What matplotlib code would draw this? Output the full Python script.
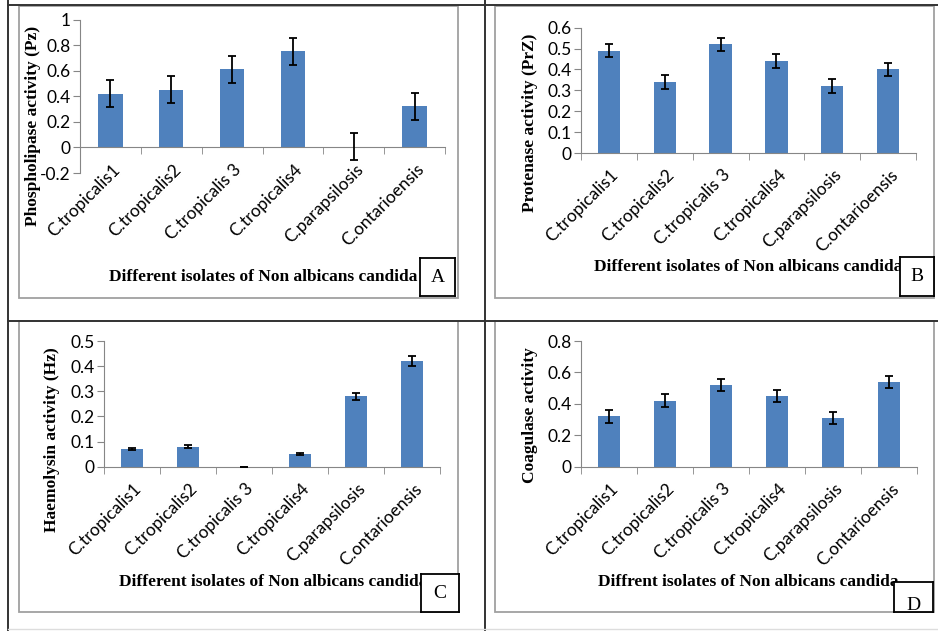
import matplotlib.pyplot as plt
from matplotlib.lines import Line2D
from matplotlib.patches import Rectangle
from matplotlib.ticker import FixedLocator
from matplotlib.transforms import ScaledTranslation

# categories shared by all four panels
isolates = ['C.tropicalis1', 'C.tropicalis2', 'C.tropicalis 3',
            'C.tropicalis4', 'C.parapsilosis', 'C.ontarioensis']

# A: phospholipase
phospho = [0.42, 0.45, 0.61, 0.75, 0.005, 0.32]
phospho_err = [0.105, 0.105, 0.105, 0.105, 0.105, 0.105]
# B: proteinase
protease = [0.49, 0.34, 0.52, 0.44, 0.32, 0.40]
protease_err = [0.032, 0.032, 0.032, 0.032, 0.032, 0.032]
# C: haemolysin
haemo = [0.07, 0.08, 0.0, 0.05, 0.28, 0.42]
haemo_err = [0.005, 0.005, 0.0, 0.003, 0.015, 0.021]
# D: coagulase
coag = [0.32, 0.42, 0.52, 0.45, 0.31, 0.54]
coag_err = [0.04, 0.04, 0.04, 0.04, 0.04, 0.04]

W, H = 938, 631
fig = plt.figure(figsize=(W / 100, H / 100), dpi=100)
fig.patch.set_facecolor('white')

BAR = '#4F81BD'
AXC = '#868686'
TICKFONT = 'Lato'
SERIF = 'Liberation Serif'


def fx(x):
    return x / W


def fy(y):
    return 1 - y / H


def px_rect(l, t, r, b):
    return [l / W, 1 - b / H, (r - l) / W, (b - t) / H]


def hline(y, x1, x2, color='#333333', lw=1.4):
    fig.add_artist(Line2D([fx(x1), fx(x2)], [fy(y), fy(y)], color=color, lw=lw,
                          transform=fig.transFigure))


def vline(x, y1, y2, color='#333333', lw=1.4):
    fig.add_artist(Line2D([fx(x), fx(x)], [fy(y1), fy(y2)], color=color, lw=lw,
                          transform=fig.transFigure))


def frame(l, t, r, b, color='#a0a0a0', lw=1.3):
    rect = Rectangle((fx(l), fy(b)), fx(r - l), (b - t) / H, transform=fig.transFigure,
                     facecolor='none', edgecolor=color, lw=lw, zorder=1)
    fig.add_artist(rect)


# table grid
hline(5, 8, 938)
hline(321, 8, 938)
vline(8, 0, 631)
vline(485, 0, 631)
hline(629, 8, 938, color='#dddddd', lw=1)

# chart frames
frame(19, 6, 458, 298)
frame(495, 6, 934, 298)
frame(19, 321, 458, 612)
frame(495, 321, 934, 612)

# nudge rotated category labels to the right, like the Excel original
label_shift = ScaledTranslation(0.07, 0, fig.dpi_scale_trans)


def panel(rect, vals, errs, ylim, yticks, ylabel, ylab_xy, xlabel, xlab_xy):
    ax = fig.add_axes(px_rect(*rect))
    # spine position first: moving it resets the tick labels
    for s in ['top', 'right']:
        ax.spines[s].set_visible(False)
    ax.spines['bottom'].set_position(('data', 0))
    ax.spines['left'].set_color(AXC)
    ax.spines['bottom'].set_color(AXC)
    x = list(range(len(isolates)))
    ax.bar(x, vals, width=0.4, color=BAR, zorder=2)
    ax.errorbar(x, vals, yerr=errs, fmt='none', ecolor='black', elinewidth=1.3,
                capsize=3, capthick=1.3, zorder=3)
    ax.set_xlim(-0.5, 5.5)
    ax.set_ylim(*ylim)
    ax.set_yticks(yticks)
    ax.set_yticklabels([('%g' % t) for t in yticks], fontsize=12.5, family=TICKFONT)
    ax.set_xticks(x)
    ax.set_xticklabels(isolates, rotation=45, ha='right', va='center',
                       rotation_mode='anchor', fontsize=12.5, family=TICKFONT)
    ax.xaxis.set_minor_locator(FixedLocator([i - 0.5 for i in range(len(isolates) + 1)]))
    ax.tick_params(axis='x', which='major', length=0, pad=14)
    ax.tick_params(axis='x', which='minor', length=5, color=AXC, direction='out')
    ax.tick_params(axis='y', length=5, color=AXC, direction='out', pad=2)
    for lab in ax.get_xticklabels():
        lab.set_transform(lab.get_transform() + label_shift)
    ax.patch.set_alpha(0)
    fig.text(fx(ylab_xy[0]), fy(ylab_xy[1]), ylabel, rotation=90, ha='center',
             va='center', fontsize=12.5, fontweight='bold', family=SERIF)
    fig.text(fx(xlab_xy[0]), fy(xlab_xy[1]), xlabel, ha='left', va='center',
             fontsize=12.5, fontweight='bold', family=SERIF)
    return ax


panel((80, 19.5, 445, 173), phospho, phospho_err, (-0.2, 1.0),
      [-0.2, 0, 0.2, 0.4, 0.6, 0.8, 1.0], 'Phospholipase activity (Pz)', (33, 126),
      'Different isolates of Non albicans candida', (109, 277))
panel((581, 27.7, 916, 153), protease, protease_err, (0, 0.6),
      [0, 0.1, 0.2, 0.3, 0.4, 0.5, 0.6], 'Protenase activity (PrZ)', (530, 123),
      'Different isolates of Non albicans candida', (594, 267))
panel((104, 341, 440, 466.7), haemo, haemo_err, (0, 0.5),
      [0, 0.1, 0.2, 0.3, 0.4, 0.5], 'Haemolysin activity (Hz)', (52, 440),
      'Different isolates of Non albicans candida', (119, 582))
panel((581, 341, 917, 466.7), coag, coag_err, (0, 0.8),
      [0, 0.2, 0.4, 0.6, 0.8], 'Coagulase activity', (530, 415),
      'Diffrent isolates of Non albicans candida', (598, 582))

# panel letter boxes (small axes so the letter is clipped to the box)
boxes = [('A', (420, 258, 455, 296), 0.5), ('B', (900, 257, 934, 296), 0.5),
         ('C', (421, 574, 459, 612), 0.5), ('D', (894, 582, 933, 612), 0.2)]
for letter, (l, t, r, b), ty in boxes:
    bx = fig.add_axes(px_rect(l, t, r, b), zorder=5)
    bx.set_xticks([])
    bx.set_yticks([])
    bx.set_facecolor('white')
    for s in bx.spines.values():
        s.set_color('black')
        s.set_linewidth(1.3)
    bx.text(0.5, ty, letter, ha='center', va='center', fontsize=14, family=SERIF,
            transform=bx.transAxes, clip_on=True)

fig.savefig('out.png', dpi=100)
